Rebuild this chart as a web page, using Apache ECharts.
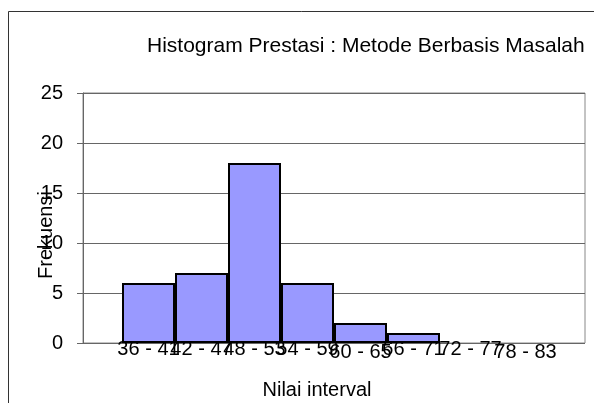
<!DOCTYPE html>
<html>
<head>
<meta charset="utf-8">
<script src="https://cdn.jsdelivr.net/npm/echarts@6/dist/echarts.min.js"></script>
<style>
  html, body { margin: 0; padding: 0; background: #fff; }
  #chart { width: 594px; height: 403px; }
</style>
</head>
<body>
<div id="chart"></div>
<script>
  // kelas interval dan frekuensi
  var categories = ['36 - 41', '42 - 47', '48 - 53', '54 - 59', '60 - 65', '66 - 71', '72 - 77', '78 - 83'];
  var frekuensi = [6, 7, 18, 6, 2, 1, 0, 0];
  var yTicks = [0, 5, 10, 15, 20, 25];

  var font = 'Liberation Sans, Arial, sans-serif';
  var chart = echarts.init(document.getElementById('chart'));

  // bar kosong tidak perlu garis tepi
  var barData = frekuensi.map(function (v) {
    return v === 0 ? { value: v, itemStyle: { borderWidth: 0 } } : v;
  });

  chart.setOption({
    animation: false,
    title: {
      text: 'Histogram Prestasi : Metode Berbasis Masalah',
      left: 147,
      top: 36,
      padding: 0,
      textStyle: { fontFamily: font, fontSize: 21, fontWeight: 'normal', color: '#000' }
    },
    grid: [
      // area plot: sumbu y dan garis grid
      { left: 83, top: 93, width: 502, height: 250, show: true, borderColor: '#888', borderWidth: 1 },
      // bar di dalamnya, lebih sempit
      { left: 122, top: 93, width: 424, height: 250 }
    ],
    xAxis: [
      { gridIndex: 0, type: 'value', min: 0, max: 1, show: false },
      {
        gridIndex: 1,
        type: 'category',
        data: categories,
        axisLine: { show: false },
        axisTick: { show: false },
        axisLabel: {
          interval: 0,
          margin: -4,
          fontFamily: font,
          fontSize: 20,
          color: '#000',
          formatter: function (v, i) {
            if (i === 4) return '{low|' + v + '}';
            if (i === 6) return '{right|' + v + '}';
            if (i === 7) return '{lowRight|' + v + '}';
            return v;
          },
          rich: {
            low: { fontFamily: font, fontSize: 20, color: '#000', padding: [3, 0, 0, 0] },
            right: { fontFamily: font, fontSize: 20, color: '#000', padding: [0, 0, 0, 8] },
            lowRight: { fontFamily: font, fontSize: 20, color: '#000', padding: [3, 0, 0, 12] }
          }
        }
      }
    ],
    yAxis: [
      {
        gridIndex: 0,
        type: 'value',
        min: yTicks[0],
        max: yTicks[yTicks.length - 1],
        interval: 5,
        axisLine: { show: true, lineStyle: { color: '#666', width: 1 } },
        axisTick: { show: true, length: 6, lineStyle: { color: '#666' } },
        axisLabel: { margin: 20, fontFamily: font, fontSize: 20, color: '#000' },
        splitLine: { lineStyle: { color: '#666', width: 1 } }
      },
      { gridIndex: 1, type: 'value', min: 0, max: 25, show: false }
    ],
    series: [{
      type: 'bar',
      xAxisIndex: 1,
      yAxisIndex: 1,
      data: barData,
      barWidth: '100%',
      itemStyle: { color: '#9999FF', borderColor: '#000', borderWidth: 2 }
    }],
    graphic: [
      {
        type: 'rect',
        silent: true,
        shape: { x: 8.5, y: 11.5, width: 620, height: 420 },
        style: { fill: null, stroke: '#333', lineWidth: 1 }
      },
      {
        type: 'text',
        x: 46, y: 235,
        rotation: Math.PI / 2,
        style: { text: 'Frekuensi', fontFamily: font, fontSize: 20, fill: '#000', align: 'center', verticalAlign: 'middle' }
      },
      {
        type: 'text',
        x: 317, y: 390,
        style: { text: 'Nilai interval', fontFamily: font, fontSize: 20, fill: '#000', align: 'center', verticalAlign: 'middle' }
      }
    ]
  });
</script>
</body>
</html>
